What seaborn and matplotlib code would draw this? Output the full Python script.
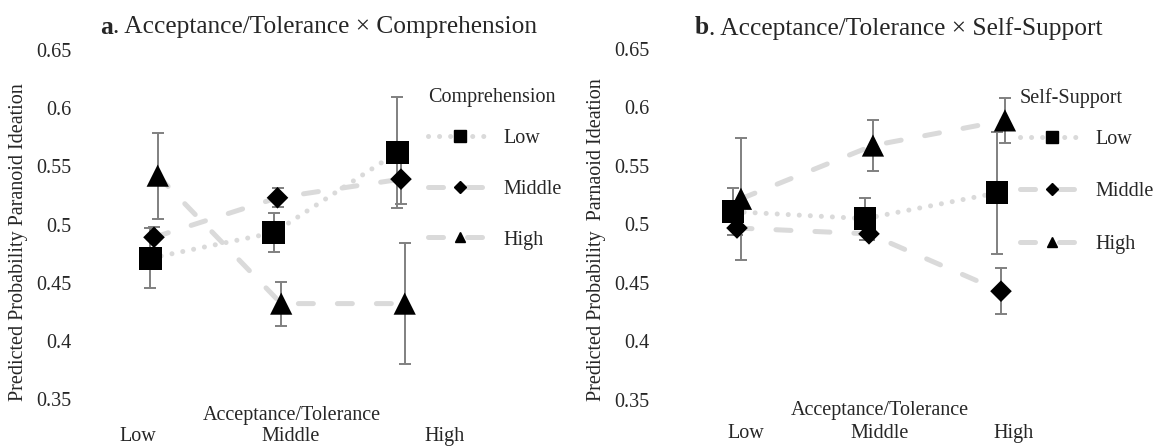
import numpy as np
import pandas as pd
import matplotlib
matplotlib.use("Agg")
import matplotlib.pyplot as plt
import seaborn as sns
from matplotlib.lines import Line2D

# ---------------- data ----------------
x_levels = ["Low", "Middle", "High"]
mod_levels = ["Low", "Middle", "High"]

# panel a: Acceptance/Tolerance x Comprehension
a_low = [0.471, 0.493, 0.562]
a_low_err = [0.026, 0.017, 0.048]
a_mid = [0.489, 0.523, 0.539]
a_mid_err = [0.009, 0.008, 0.021]
a_high = [0.542, 0.432, 0.432]
a_high_err = [0.037, 0.019, 0.052]

# panel b: Acceptance/Tolerance x Self-Support
b_low = [0.511, 0.505, 0.527]
b_low_err = [0.020, 0.018, 0.052]
b_mid = [0.497, 0.492, 0.443]
b_mid_err = [0.006, 0.005, 0.0195]
b_high = [0.522, 0.5675, 0.589]
b_high_err = [0.052, 0.022, 0.019]

y_ticks = [0.35, 0.4, 0.45, 0.5, 0.55, 0.6, 0.65]
y_tick_labels = ["0.35", "0.4", "0.45", "0.5", "0.55", "0.6", "0.65"]

# ---------------- style ----------------
sns.set_theme(style="white")
plt.rcParams["font.family"] = ["Liberation Serif", "DejaVu Serif"]
plt.rcParams["lines.dash_capstyle"] = "round"
plt.rcParams["lines.solid_capstyle"] = "round"

W, H = 1155, 446
fig = plt.figure(figsize=(W / 100, H / 100), dpi=100)

LINE_C = "#dadada"
ERR_C = "#808080"
FS = 14.5

offsets = {"Low": -0.03, "Middle": 0.0, "High": 0.03}
markers = {"Low": "s", "Middle": "D", "High": "^"}
msize = {"Low": 16.5, "Middle": 11.0, "High": 16.0}
dashes = {"Low": (0.01, 2.2), "Middle": (3.0, 4.8), "High": (3.0, 4.8)}
leg_msize = {"Low": 8.5, "Middle": 6.0, "High": 7.5}


def make_df(low, lerr, mid, merr, high, herr):
    rows = []
    for lev, vals, errs in (("Low", low, lerr), ("Middle", mid, merr), ("High", high, herr)):
        for i, (v, e) in enumerate(zip(vals, errs)):
            rows.append({"x": i + offsets[lev], "y": v, "err": e, "level": lev})
    return pd.DataFrame(rows)


def draw_panel(ax, df, xlim, xtick_pos, xtick_pad, xlabel_xy, ylabel_text, ylabel_xy,
               legend_title, legend_anchor, lspace):
    sns.lineplot(data=df, x="x", y="y", style="level", style_order=mod_levels,
                 dashes=dashes, color=LINE_C, linewidth=3.6, estimator=None,
                 sort=False, legend=False, ax=ax, zorder=1)
    for lev in mod_levels:
        sub = df[df["level"] == lev]
        ax.errorbar(sub["x"], sub["y"], yerr=sub["err"], fmt="none", ecolor=ERR_C,
                    elinewidth=1.4, capsize=4.3, capthick=1.4, zorder=2)
    sns.scatterplot(data=df, x="x", y="y", style="level", style_order=mod_levels,
                    markers=markers, size="level", sizes={k: v ** 2 for k, v in msize.items()},
                    color="black", edgecolor="none", linewidth=0, legend=False, ax=ax, zorder=3)
    ax.set_xlim(*xlim)
    ax.set_ylim(0.35, 0.65)
    ax.set_yticks(y_ticks, y_tick_labels, fontsize=FS)
    ax.set_xticks(xtick_pos, x_levels, fontsize=FS)
    ax.tick_params(axis="both", length=0)
    ax.tick_params(axis="y", pad=6)
    ax.tick_params(axis="x", pad=xtick_pad)
    ax.grid(False)
    sns.despine(ax=ax, left=True, bottom=True)
    ax.set_xlabel("Acceptance/Tolerance", fontsize=FS)
    ax.xaxis.label.set(va="center", ha="center")
    ax.xaxis.set_label_coords(*xlabel_xy)
    ax.set_ylabel(ylabel_text, fontsize=FS)
    ax.yaxis.label.set(va="center", ha="center", rotation_mode="anchor")
    ax.yaxis.set_label_coords(*ylabel_xy)
    ax.patch.set_alpha(0)

    handles = [Line2D([], [], color=LINE_C, linewidth=3.6, dashes=dashes[lev],
                      dash_capstyle="round", marker=markers[lev], markersize=leg_msize[lev],
                      markerfacecolor="black", markeredgecolor="black")
               for lev in mod_levels]
    leg = ax.legend(handles, mod_levels, title=legend_title, loc="upper left",
                    bbox_to_anchor=legend_anchor, bbox_transform=fig.transFigure,
                    frameon=False, borderpad=0, borderaxespad=0, handlelength=3.2,
                    handletextpad=0.55, labelspacing=lspace, fontsize=FS,
                    title_fontsize=FS, alignment="left")
    leg._legend_box.sep = 1.5 * FS - 6.2
    return leg


# panel a axes: data x=0 at 154px, unit 123.5px; y 0.65 at 50px, 0.35 at 399px
ax_a = fig.add_axes([80 / W, 1 - 399 / H, 490 / W, 349 / H])
df_a = make_df(a_low, a_low_err, a_mid, a_mid_err, a_high, a_high_err)
draw_panel(ax_a, df_a, ((80 - 154) / 123.5, (570 - 154) / 123.5),
           [-0.13, 1.109, 2.356], 20.5,
           (0.433, -0.048),
           "Predicted Probability Paranoid Ideation", (-0.1265, 0.45),
           "Comprehension", (428 / W, 1 - 88 / H), 1.58)

# panel b axes: data x=0 at 737px, unit 132px; y 0.65 at 49px, 0.35 at 400px
ax_b = fig.add_axes([658 / W, 1 - 400 / H, 492 / W, 351 / H])
df_b = make_df(b_low, b_low_err, b_mid, b_mid_err, b_high, b_high_err)
draw_panel(ax_b, df_b, ((658 - 737) / 132, (1150 - 737) / 132),
           [0.068, 1.083, 2.098], 17.5,
           (0.451, -0.029),
           "Predicted Probability  Parnaoid Ideation", (-0.124, 0.456),
           "Self-Support", (1020 / W, 1 - 88 / H), 1.66)

# titles
TFS = 18.3
ta = fig.text(100 / W, 1 - 27 / H, "a", fontsize=TFS, fontweight="bold", va="center")
fig.canvas.draw()
ax_a.annotate(". Acceptance/Tolerance \u00d7 Comprehension", xy=(1, 0), xycoords=ta,
              va="bottom", ha="left", fontsize=TFS, annotation_clip=False)
tb = fig.text(695 / W, 1 - 28 / H, "b", fontsize=TFS, fontweight="bold", va="center")
ax_b.annotate(". Acceptance/Tolerance \u00d7 Self-Support", xy=(1, 0), xycoords=tb,
              va="bottom", ha="left", fontsize=TFS, annotation_clip=False)

fig.savefig("out.png", dpi=100, facecolor="white")
